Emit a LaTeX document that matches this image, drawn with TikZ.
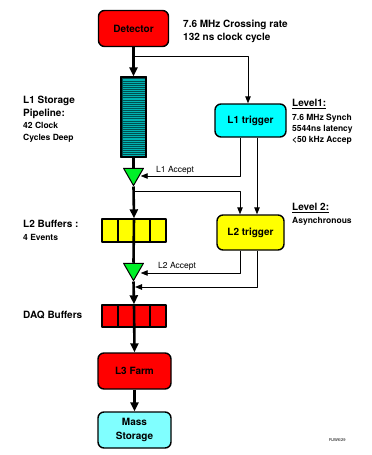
\documentclass[tikz,border=0pt]{standalone}
\usepackage{fontspec}
\setmainfont{TeX Gyre Heros}
\usetikzlibrary{arrows.meta, shapes.geometric}
\definecolor{detred}{RGB}{255,0,0}
\definecolor{trigcyan}{RGB}{0,255,255}
\definecolor{buffyellow}{RGB}{255,255,0}
\definecolor{gategreen}{RGB}{0,240,40}
\definecolor{masscyan}{RGB}{128,255,255}
\definecolor{pipedark}{RGB}{0,78,78}
\definecolor{pipestripe}{RGB}{0,180,180}

\begin{document}
\begin{tikzpicture}[x=1pt, y=-1pt, line join=round,
    box/.style={draw, line width=1.4pt, rounded corners=6pt, inner sep=0pt, align=center,
        font=\fontsize{10}{13.5}\selectfont\bfseries},
    buffer/.style={draw, line width=1.4pt, inner sep=0pt, minimum width=64pt, minimum height=23pt},
    gate/.style={draw, line width=1pt, fill=gategreen, regular polygon, regular polygon sides=3,
        shape border rotate=180, minimum size=23pt, inner sep=0pt},
    bus/.style={line width=2.6pt, -{Triangle[length=9pt, width=8pt]}},
    sig/.style={line width=0.9pt, -{Triangle[length=7pt, width=5.5pt]}},
    big/.style={font=\fontsize{10}{13}\selectfont\bfseries, align=left, inner sep=0pt},
    small/.style={font=\fontsize{8.5}{11}\selectfont\bfseries, align=left, inner sep=0pt}]

    \useasboundingbox (0,0) rectangle (372,455);

    % Main chain, top to bottom, along x = 133.5
    \node[box, fill=detred, minimum width=70pt, minimum height=36pt] (det) at (133.5,28.5) {Detector};
    \node[draw, line width=1.2pt, fill=pipedark, minimum width=24pt, minimum height=80pt, inner sep=0pt] (pipe) at (133.5,117) {};
    \node[gate] (acc1) at (133.5,174) {};
    \node[buffer, fill=buffyellow] (l2buf) at (134,230.5) {};
    \node[gate] (acc2) at (133.5,269) {};
    \node[buffer, fill=detred, minimum height=22pt] (daq) at (134,316) {};
    \node[box, fill=detred, minimum width=73pt, minimum height=36pt] (l3farm) at (134.5,371) {L3 Farm};
    \node[box, fill=masscyan, minimum width=73pt, minimum height=36pt] (mass) at (134.5,430) {Mass\\Storage};

    % Trigger boxes on the right
    \node[box, fill=trigcyan, minimum width=71pt, minimum height=33pt] (l1trig) at (250.5,120.5) {L1 trigger};
    \node[box, fill=buffyellow, minimum width=67pt, minimum height=35pt] (l2trig) at (250.5,232.5) {L2 trigger};

    % Pipeline stripes (42 clock cycles), then the border again
    \foreach \k in {1,...,41}
        \draw[pipestripe, line width=0.75pt] (122.5,77+\k*1.905) -- (144.5,77+\k*1.905);
    \draw[line width=1.2pt] (pipe.north west) rectangle (pipe.south east);

    % Buffer cells
    \foreach \k in {-16,0,16} {
        \draw[line width=1.2pt] ([xshift=\k pt]l2buf.north) -- ([xshift=\k pt]l2buf.south);
        \draw[line width=1.2pt] ([xshift=\k pt]daq.north) -- ([xshift=\k pt]daq.south);
    }

    % Branch points on the main line
    \coordinate (split1) at (133.5,56);
    \coordinate (split2) at (133.5,191);
    \coordinate (merge) at (133.5,287);

    % Data path
    \draw[bus] (det.south) -- (pipe.north);
    \draw[line width=2.6pt] (pipe.south) -- (acc1.north);
    \draw[bus] (acc1.south) -- (l2buf.north);
    \draw[line width=2.6pt] (l2buf.north) -- (acc2.north);
    \draw[bus] (acc2.south) -- (daq.north);
    \draw[bus] (daq.north) -- (l3farm.north);
    \draw[bus] (l3farm.south) -- (mass.north);

    % Trigger signals
    \draw[sig] (split1) -| ([xshift=-2.5pt]l1trig.north);
    \draw[sig] ([xshift=-10.5pt]l1trig.south) |- ([yshift=-2pt]acc1.east);
    \draw[sig] ([xshift=6.5pt]l1trig.south) -- ([xshift=6.5pt]l2trig.north);
    \draw[sig] (split2) -| ([xshift=-10.5pt]l2trig.north);
    \draw[sig] ([xshift=-10.5pt]l2trig.south) |- ([yshift=-4pt]acc2.east);
    \draw[sig] ([xshift=6.5pt]l2trig.south) |- ([xshift=1.5pt]merge);

    \node[anchor=west, inner sep=0pt, font=\fontsize{8.5}{10}\selectfont] (acc1lbl) at (156,170.5) {L1 Accept};
    \node[anchor=west, inner sep=0pt, font=\fontsize{8.5}{10}\selectfont] (acc2lbl) at (158,266) {L2 Accept};

    % Side texts
    \node[big, anchor=north west] (ratetxt) at (183,19.5) {7.6 MHz Crossing rate\\132 ns clock cycle};
    \node[big, anchor=north west] (pipetxt) at (23,95.5) {L1 Storage\\Pipeline:};
    \node[small, anchor=north west] (depthtxt) at (23,122.5) {42 Clock\\Cycles Deep};
    \node[big, anchor=north west] (l2buftxt) at (23,220.5) {L2 Buffers :};
    \node[small, anchor=north west] (eventtxt) at (23,234.5) {4 Events};
    \node[big, anchor=north west] (daqtxt) at (23,310.5) {DAQ Buffers};
    \node[big, anchor=north west] (lev1txt) at (292,99.5) {\underline{Level1:}};
    \node[small, anchor=north west] (lev1spec) at (292,113.5) {7.6 MHz Synch\\5544ns latency\\<50 kHz Accep};
    \node[big, anchor=north west] (lev2txt) at (292,203.5) {\underline{Level 2:}};
    \node[small, anchor=north west] (lev2spec) at (292,217.5) {Asynchronous};
    \node[anchor=west, inner sep=0pt, font=\fontsize{4}{5}\selectfont] (stamp) at (329,440) {RJW6/29};

\end{tikzpicture}
\end{document}
